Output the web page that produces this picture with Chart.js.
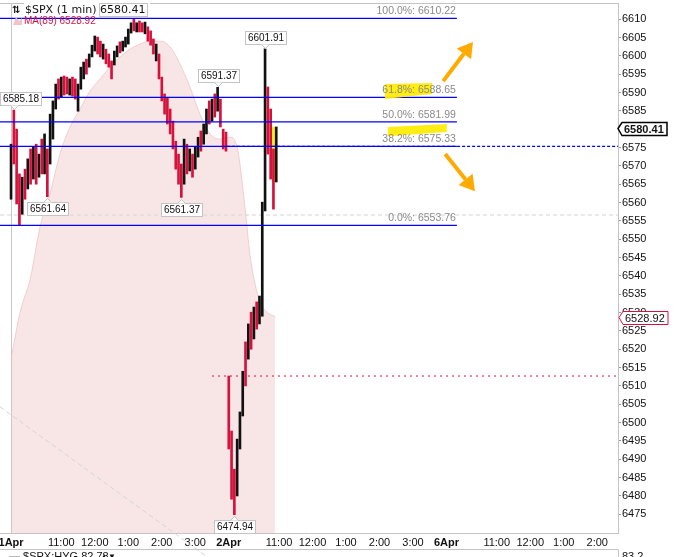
<!DOCTYPE html>
<html>
<head>
<meta charset="utf-8">
<script src="https://cdn.jsdelivr.net/npm/chart.js@4.4.1/dist/chart.umd.min.js"></script>
<style>
  html, body { margin: 0; padding: 0; background: #fff; }
  canvas { display: block; }
</style>
</head>
<body>
<canvas id="spxChart" width="688" height="557"></canvas>
<script>
// x axis runs in trading hours counted from 1 Apr 09:30 (a session is 6.5 h)
const xTickValues = [0, 1.5, 2.5, 3.5, 4.5, 5.5, 6.5, 8, 9, 10, 11, 12, 13, 14.5, 15.5, 16.5, 17.5];
const xTickLabels = ['1Apr', '11:00', '12:00', '1:00', '2:00', '3:00', '2Apr', '11:00', '12:00', '1:00', '2:00', '3:00', '6Apr', '11:00', '12:00', '1:00', '2:00'];
const yTickValues = [6475, 6480, 6485, 6490, 6495, 6500, 6505, 6510, 6515, 6520, 6525, 6530, 6535, 6540,
  6545, 6550, 6555, 6560, 6565, 6570, 6575, 6580, 6585, 6590, 6595, 6600, 6605, 6610];

// 5 minute bars of $SPX, 1 Apr (high / low, 1 = up bar)
const apr1High = [6575.9, 6585.2, 6580.0, 6567.8, 6566.9, 6569.1, 6571.9, 6574.6, 6575.1, 6575.9,
  6573.2, 6577.3, 6578.7, 6574.6, 6584.1, 6587.7, 6592.3, 6593.7, 6594.2, 6594.5,
  6594.2, 6593.7, 6594.2, 6593.7, 6592.3, 6596.9, 6598.3, 6599.1, 6600.5, 6602.9,
  6605.4, 6605.1, 6604.0, 6603.2, 6601.8, 6600.5, 6598.6, 6601.3, 6602.7, 6603.8,
  6604.0, 6605.1, 6607.3, 6609.0, 6610.2, 6609.0, 6609.5, 6609.0, 6609.2, 6607.9,
  6606.8, 6604.6, 6603.2, 6600.5, 6594.2, 6589.6, 6588.7, 6585.5, 6582.2, 6576.7,
  6573.2, 6570.5, 6577.3, 6575.9, 6574.6, 6573.2, 6575.1, 6577.8, 6579.5, 6581.4,
  6585.5, 6587.7, 6588.2, 6589.6, 6591.4, 6588.2, 6580.0, 6579.2];
const apr1Low = [6560.9, 6570.5, 6559.6, 6553.8, 6556.8, 6560.9, 6563.7, 6565.0, 6566.4, 6565.0,
  6566.9, 6567.8, 6567.8, 6561.6, 6570.5, 6577.3, 6585.5, 6588.2, 6588.7, 6589.3,
  6589.6, 6589.3, 6589.0, 6588.2, 6584.9, 6590.9, 6593.7, 6595.0, 6596.9, 6599.7,
  6601.3, 6600.5, 6599.7, 6599.1, 6597.8, 6596.9, 6593.7, 6597.5, 6599.7, 6600.8,
  6601.3, 6602.4, 6603.2, 6606.2, 6606.8, 6606.5, 6606.5, 6606.5, 6606.0, 6604.0,
  6602.9, 6600.5, 6598.6, 6593.7, 6587.7, 6584.1, 6581.4, 6578.7, 6574.6, 6569.1,
  6565.0, 6561.4, 6565.0, 6567.8, 6568.6, 6566.9, 6569.1, 6572.4, 6574.0, 6575.9,
  6578.7, 6581.4, 6582.2, 6583.3, 6584.9, 6580.6, 6574.6, 6574.0];
const apr1Up = [1, 0, 0, 0, 1, 0, 1, 0, 1, 0,
  1, 0, 1, 0, 1, 1, 1, 0, 1, 0,
  0, 1, 0, 0, 1, 1, 1, 0, 1, 1,
  1, 0, 0, 1, 0, 0, 0, 1, 1, 0,
  1, 1, 1, 1, 0, 1, 0, 0, 1, 0,
  0, 0, 1, 0, 0, 0, 0, 0, 0, 0,
  0, 0, 1, 0, 1, 0, 1, 1, 0, 1,
  1, 0, 1, 0, 1, 0, 0, 0];

// 2 Apr, first 90 minutes
const apr2High = [6512.7, 6497.7, 6487.3, 6495.5, 6502.9, 6514.0, 6522.0, 6526.9, 6530.1, 6531.5,
  6532.9, 6534.5, 6560.1, 6601.9, 6591.5, 6585.5, 6574.6, 6580.6];
const apr2Low = [6492.8, 6479.1, 6474.9, 6480.0, 6492.8, 6501.8, 6510.0, 6517.3, 6520.0, 6522.8,
  6525.5, 6526.9, 6529.0, 6557.7, 6573.2, 6566.4, 6558.2, 6565.6];
const apr2Up = [0, 0, 0, 1, 1, 1, 0, 1, 0, 1, 0, 1, 1, 1, 0, 0, 0, 1];

// MA(89)
const maTimes = [0, 0.27, 0.57, 0.87, 1.16, 1.46, 1.76, 2.06, 2.36, 2.66, 2.96, 3.25, 3.55, 3.85,
  4.15, 4.45, 4.75, 5.04, 5.34, 5.64, 5.94, 6.24, 6.54, 6.75, 6.99, 7.13, 7.43, 7.64, 7.88];
const maValues = [6517.3, 6530.1, 6539.1, 6553.5, 6562.3, 6573.2, 6580.6, 6585.5, 6590.4, 6593.7,
  6597.0, 6599.7, 6601.8, 6603.2, 6604.0, 6604.0, 6602.4, 6597.8, 6591.5, 6584.1, 6578.7,
  6577.3, 6577.8, 6575.1, 6558.2, 6545.9, 6532.9, 6530.1, 6528.9];

// fibonacci retracement
const fibNames = ['100.0%', '61.8%', '50.0%', '38.2%', '0.0%'];
const fibLevels = [6610.22, 6588.65, 6581.99, 6575.33, 6553.76];
const fibEnd = 13.31;

// high / low tags
const peakTimes = [0.083, 1.083, 3.667, 5.083, 6.167, 6.667, 7.583];
const peakValues = [6585.18, 6561.64, 6610.22, 6561.37, 6591.37, 6474.94, 6601.91];
const peakBelow = [false, true, false, true, false, true, false];

const lastPrice = 6580.41;
const maLast = 6528.92;
const prevLevel = 6556.6;
const openLevel = 6512.7;
const trendLine = [{ x: -0.33, y: 6504.3 }, { x: 5.9, y: 6463.1 }];

// hand drawn marks
const arrowUp = [{ x: 12.90, y: 6593.1 }, { x: 13.79, y: 6603.8 }];
const arrowDown = [{ x: 12.96, y: 6573.2 }, { x: 13.85, y: 6563.1 }];
const marker61 = [{ x: 11.16, y: 6592.3 }, { x: 12.57, y: 6592.6 }, { x: 12.57, y: 6589.6 }, { x: 11.16, y: 6588.2 }];
const marker38 = [{ x: 11.25, y: 6580.6 }, { x: 13.01, y: 6581.4 }, { x: 13.01, y: 6579.2 }, { x: 11.25, y: 6578.1 }];
const markerBar = [{ x: 7.79, y: 6580.6 }, { x: 7.95, y: 6580.6 }, { x: 7.95, y: 6565.6 }, { x: 7.79, y: 6565.6 }];

const X_MIN = -0.33, X_MAX = 18.12;
const FONT = '"Liberation Sans", Arial, sans-serif';

// build bar data
const bars = [];
const barColors = [];
apr1High.forEach((h, i) => {
  bars.push({ x: i / 12, y: [apr1Low[i], h] });
  barColors.push(apr1Up[i] ? '#111111' : '#d6123c');
});
apr2High.forEach((h, i) => {
  bars.push({ x: 6.5 + i / 12, y: [apr2Low[i], h] });
  barColors.push(apr2Up[i] ? '#111111' : '#d6123c');
});

function flatLine(value, from, to, color, dash, order, width) {
  return {
    type: 'line',
    data: [{ x: from, y: value }, { x: to, y: value }],
    borderColor: color,
    borderWidth: width || 1,
    borderDash: dash,
    pointRadius: 0,
    order: order
  };
}

function polygon(ctx, pts, x, y, color) {
  ctx.fillStyle = color;
  ctx.beginPath();
  pts.forEach((p, i) => {
    const px = x.getPixelForValue(p.x), py = y.getPixelForValue(p.y);
    if (i === 0) ctx.moveTo(px, py); else ctx.lineTo(px, py);
  });
  ctx.closePath();
  ctx.fill();
}

function drawArrow(ctx, pts, x, y) {
  const x0 = x.getPixelForValue(pts[0].x), y0 = y.getPixelForValue(pts[0].y);
  const x1 = x.getPixelForValue(pts[1].x), y1 = y.getPixelForValue(pts[1].y);
  const ang = Math.atan2(y1 - y0, x1 - x0);
  const head = 15, half = 9;
  const bx = x1 - head * Math.cos(ang), by = y1 - head * Math.sin(ang);
  ctx.strokeStyle = '#ffaa00';
  ctx.fillStyle = '#ffaa00';
  ctx.lineWidth = 4;
  ctx.beginPath();
  ctx.moveTo(x0, y0);
  ctx.lineTo(bx, by);
  ctx.stroke();
  ctx.beginPath();
  ctx.moveTo(x1, y1);
  ctx.lineTo(bx + half * Math.sin(ang), by - half * Math.cos(ang));
  ctx.lineTo(bx - half * Math.sin(ang), by + half * Math.cos(ang));
  ctx.closePath();
  ctx.fill();
}

function tag(ctx, cx, py, text, below) {
  ctx.font = '10px ' + FONT;
  const w = Math.round(ctx.measureText(text).width) + 5, h = 13;
  const top = below ? Math.round(py) + 5 : Math.round(py) - 5 - h;
  const left = Math.max(0, Math.round(cx - w / 2));
  ctx.lineWidth = 1;
  ctx.fillStyle = '#fff';
  ctx.strokeStyle = '#c4c4c4';
  ctx.fillRect(left + 0.5, top + 0.5, w, h);
  ctx.strokeRect(left + 0.5, top + 0.5, w, h);
  ctx.beginPath();
  const by = below ? top + 0.5 : top + h + 0.5;
  const tip = below ? by - 4 : by + 4;
  ctx.moveTo(cx - 4, by);
  ctx.lineTo(cx, tip);
  ctx.lineTo(cx + 4, by);
  ctx.fill();
  ctx.stroke();
  ctx.fillStyle = '#111';
  ctx.textAlign = 'center';
  ctx.textBaseline = 'middle';
  ctx.fillText(text, left + 0.5 + w / 2, top + h / 2 + 1);
  return left + w + 1;
}

function axisTag(ctx, px, py, text, color, bold) {
  ctx.font = (bold ? 'bold ' : '') + '11px ' + FONT;
  const w = Math.round(ctx.measureText(text).width) + 4;
  const yc = Math.round(py) + 0.5;
  ctx.beginPath();
  ctx.moveTo(px, yc);
  ctx.lineTo(px + 4, yc - 6);
  ctx.lineTo(px + 5 + w, yc - 6);
  ctx.lineTo(px + 5 + w, yc + 7);
  ctx.lineTo(px + 4, yc + 7);
  ctx.closePath();
  ctx.fillStyle = '#fff';
  ctx.fill();
  ctx.lineWidth = bold ? 1.5 : 1;
  ctx.strokeStyle = color;
  ctx.stroke();
  ctx.fillStyle = '#111';
  ctx.textAlign = 'left';
  ctx.textBaseline = 'middle';
  ctx.fillText(text, px + 6, yc + 1);
}

const overlay = {
  id: 'overlay',
  beforeDatasetsDraw(chart) {
    const { ctx, chartArea: a, scales: { x, y } } = chart;
    ctx.save();
    // 1 Apr session start
    const sx = Math.round(x.getPixelForValue(0)) + 0.5;
    ctx.strokeStyle = '#c8c8c8';
    ctx.lineWidth = 1;
    ctx.beginPath();
    ctx.moveTo(sx, a.top);
    ctx.lineTo(sx, a.bottom);
    ctx.stroke();
    polygon(ctx, markerBar, x, y, 'rgba(255,236,0,0.9)');
    ctx.restore();
  },
  afterDatasetsDraw(chart) {
    const { ctx, chartArea: a, scales: { x, y } } = chart;
    ctx.save();
    // frame
    ctx.strokeStyle = '#c4c4c4';
    ctx.lineWidth = 1;
    ctx.beginPath();
    ctx.moveTo(0, a.top + 0.5);
    ctx.lineTo(a.right, a.top + 0.5);
    ctx.stroke();

    // marker strokes, then fib texts
    polygon(ctx, marker61, x, y, 'rgba(255,236,0,0.92)');
    polygon(ctx, marker38, x, y, 'rgba(255,236,0,0.92)');
    ctx.font = '10.5px ' + FONT;
    ctx.fillStyle = '#8a8a8a';
    ctx.textAlign = 'right';
    ctx.textBaseline = 'bottom';
    const fx = x.getPixelForValue(fibEnd) - 1;
    fibLevels.forEach((lvl, i) => {
      ctx.fillText(fibNames[i] + ': ' + lvl.toFixed(2), fx, y.getPixelForValue(lvl) - 2);
    });

    drawArrow(ctx, arrowUp, x, y);
    drawArrow(ctx, arrowDown, x, y);

    // high / low tags
    let hiddenRight = 0;
    peakValues.forEach((v, i) => {
      const py = y.getPixelForValue(v);
      const r = tag(ctx, Math.round(x.getPixelForValue(peakTimes[i])) + 0.5, py, v.toFixed(2), peakBelow[i]);
      if (py < 24) hiddenRight = Math.max(hiddenRight, r);
    });

    // header: the day-high tag sits underneath it
    ctx.font = '11px "DejaVu Sans", sans-serif';
    const prefix = '$SPX (1 min) ';
    const price = lastPrice.toFixed(2);
    const pw = ctx.measureText(prefix).width;
    const hw = pw + ctx.measureText(price).width;
    ctx.fillStyle = '#fff';
    ctx.fillRect(24, 0, Math.max(hw + 6, hiddenRight - 24 + 1), 16);
    ctx.strokeStyle = '#c4c4c4';
    ctx.strokeRect(Math.round(24 + pw) + 0.5, 3.5, Math.round(hw - pw) + 3, 13);
    ctx.beginPath();
    ctx.moveTo(Math.round(24 + hw + 6), a.top + 0.5);
    ctx.lineTo(a.right, a.top + 0.5);
    ctx.stroke();
    ctx.fillStyle = '#111';
    ctx.textAlign = 'left';
    ctx.textBaseline = 'middle';
    ctx.fillText(prefix + price, 25, 10.5);
    ctx.font = 'bold 10px "DejaVu Sans", sans-serif';
    ctx.fillText('\u21C5', 12, 10);
    // MA legend
    ctx.fillStyle = '#f2c4c8';
    ctx.beginPath();
    ctx.moveTo(13, 25);
    ctx.lineTo(16, 17);
    ctx.lineTo(19, 21);
    ctx.lineTo(22, 18);
    ctx.lineTo(22, 25);
    ctx.closePath();
    ctx.fill();
    ctx.font = '10px ' + FONT;
    ctx.fillStyle = '#d6123c';
    ctx.fillText('MA(89) ' + maLast.toFixed(2), 24, 21);

    // price tags on the axis
    axisTag(ctx, a.right, y.getPixelForValue(lastPrice), lastPrice.toFixed(2), '#000', true);
    axisTag(ctx, a.right + 1, y.getPixelForValue(maLast), maLast.toFixed(2), '#d6123c', false);

    // lower pane ($SPX:HYG)
    ctx.strokeStyle = '#c4c4c4';
    ctx.lineWidth = 1;
    ctx.beginPath();
    ctx.moveTo(0, 549.5);
    ctx.lineTo(a.right + 0.5, 549.5);
    ctx.lineTo(a.right + 0.5, 557);
    ctx.stroke();
    ctx.fillStyle = '#111';
    ctx.font = '11px ' + FONT;
    ctx.textBaseline = 'top';
    ctx.textAlign = 'left';
    ctx.fillText('\u25AC $SPX:HYG 82.78', 9, 551);
    ctx.font = '8px ' + FONT;
    ctx.fillText('\u25B2\u25BC', 100, 553);
    ctx.font = '11px ' + FONT;
    ctx.fillText('83.2', a.right + 4, 551);
    ctx.restore();
  }
};

new Chart(document.getElementById('spxChart'), {
  type: 'bar',
  data: {
    datasets: [
      {
        type: 'bar',
        data: bars,
        backgroundColor: barColors,
        barThickness: 2,
        order: 2
      },
      ...fibLevels.map(lvl => flatLine(lvl, X_MIN, fibEnd, '#0000ff', [], 1, 1.3)),
      flatLine(fibLevels[3], 6.45, X_MAX, '#0000ff', [3, 2], 1, 1.3),
      flatLine(prevLevel, X_MIN, X_MAX, '#d4d4d4', [4, 3], 3),
      flatLine(openLevel, 6.0, X_MAX, '#d6123c', [2, 4], 3),
      {
        type: 'line',
        data: trendLine,
        borderColor: '#d4d4d4',
        borderWidth: 1,
        borderDash: [5, 3],
        pointRadius: 0,
        clip: false,
        order: 4
      },
      {
        type: 'line',
        data: maTimes.map((t, i) => ({ x: t, y: maValues[i] })),
        borderColor: 'rgba(236,190,194,0.7)',
        borderWidth: 1,
        backgroundColor: 'rgba(236,190,190,0.38)',
        fill: 'start',
        pointRadius: 0,
        cubicInterpolationMode: 'monotone',
        order: 5
      }
    ]
  },
  options: {
    responsive: false,
    animation: false,
    devicePixelRatio: 1,
    layout: { padding: { top: 3, bottom: 8, left: 0, right: 0 } },
    plugins: { legend: { display: false }, tooltip: { enabled: false } },
    scales: {
      x: {
        type: 'linear',
        min: X_MIN,
        max: X_MAX,
        offset: false,
        afterBuildTicks: s => { s.ticks = xTickValues.map(v => ({ value: v })); },
        afterFit: s => { s.height = 16; s.paddingLeft = 0; s.paddingRight = 0; },
        grid: { drawOnChartArea: false, drawTicks: false },
        border: { color: '#c4c4c4' },
        ticks: {
          padding: 3,
          autoSkip: false,
          maxRotation: 0,
          color: '#111',
          font: c => ({ family: FONT, size: 11, weight: /Apr/.test(xTickLabels[c.index]) ? 'bold' : 'normal' }),
          callback: (v, i) => xTickLabels[i]
        }
      },
      y: {
        position: 'right',
        min: 6469.9,
        max: 6614.4,
        afterBuildTicks: s => { s.ticks = yTickValues.map(v => ({ value: v })); },
        afterFit: s => { s.width = 70; s.paddingTop = 0; s.paddingBottom = 0; },
        grid: { drawOnChartArea: false, tickLength: 3, color: '#999' },
        border: { color: '#c4c4c4' },
        ticks: {
          padding: 1,
          color: '#111',
          font: { family: FONT, size: 11 },
          callback: v => String(v)
        }
      }
    }
  },
  plugins: [overlay]
});
</script>
</body>
</html>
